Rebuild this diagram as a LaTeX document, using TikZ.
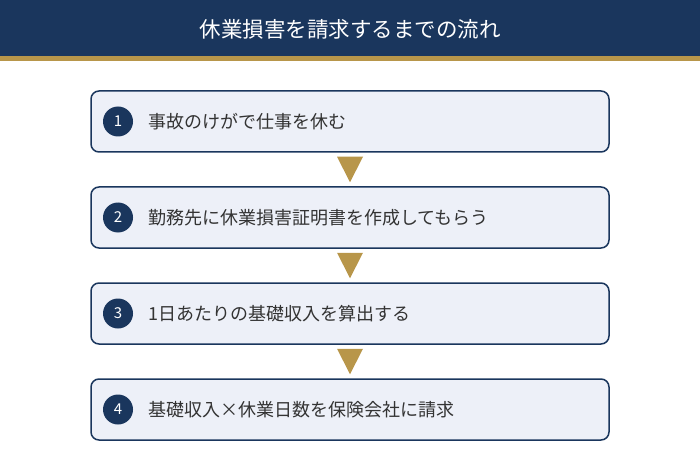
\documentclass[tikz,border=0pt]{standalone}
\usepackage{fontspec}
\setmainfont{Noto Sans CJK JP}
\usetikzlibrary{calc}
\definecolor{navy}{HTML}{1A365D}
\definecolor{gold}{HTML}{B8964A}
\definecolor{boxfill}{HTML}{EDF0F8}
\definecolor{ink}{HTML}{333333}
\begin{document}
\begin{tikzpicture}[x=1pt,y=-1pt,
  stepbox/.style={draw=navy, line width=1.5pt, fill=boxfill, rounded corners=8pt,
    minimum width=518pt, minimum height=61pt, inner sep=0pt},
  num/.style={circle, fill=navy, text=white, minimum size=30pt, inner sep=0pt,
    font=\fontsize{15}{15}\selectfont},
  steptext/.style={anchor=west, text=ink, inner sep=0pt, font=\fontsize{18}{18}\selectfont}]
\useasboundingbox (0,0) rectangle (700,470);
% header
\fill [navy] (0,0) rectangle (700,56);
\fill [gold] (0,56) rectangle (700,61);
\node (title) [text=white, font=\fontsize{21.5}{21.5}\selectfont] at (350,29) {休業損害を請求するまでの流れ};
% steps
\node (s1) [stepbox] at (350,121.5) {};
\node (s2) [stepbox] at (350,217.5) {};
\node (s3) [stepbox] at (350,313.5) {};
\node (s4) [stepbox] at (350,409.5) {};
\node (n1) [num] at (118,121.5) {1};
\node (n2) [num] at (118,217.5) {2};
\node (n3) [num] at (118,313.5) {3};
\node (n4) [num] at (118,409.5) {4};
\node (t1) [steptext] at (148,121.5) {事故のけがで仕事を休む};
\node (t2) [steptext] at (148,217.5) {勤務先に休業損害証明書を作成してもらう};
\node (t3) [steptext] at (148,313.5) {1日あたりの基礎収入を算出する};
\node (t4) [steptext] at (148,409.5) {基礎収入×休業日数を保険会社に請求};
% arrows
\foreach \a/\b in {s1/s2, s2/s3, s3/s4}
  \fill [gold] ($(\a.south)+(-13,4)$) -- ($(\a.south)+(13,4)$) -- ($(\b.north)+(0,-4)$) -- cycle;
\end{tikzpicture}
\end{document}
